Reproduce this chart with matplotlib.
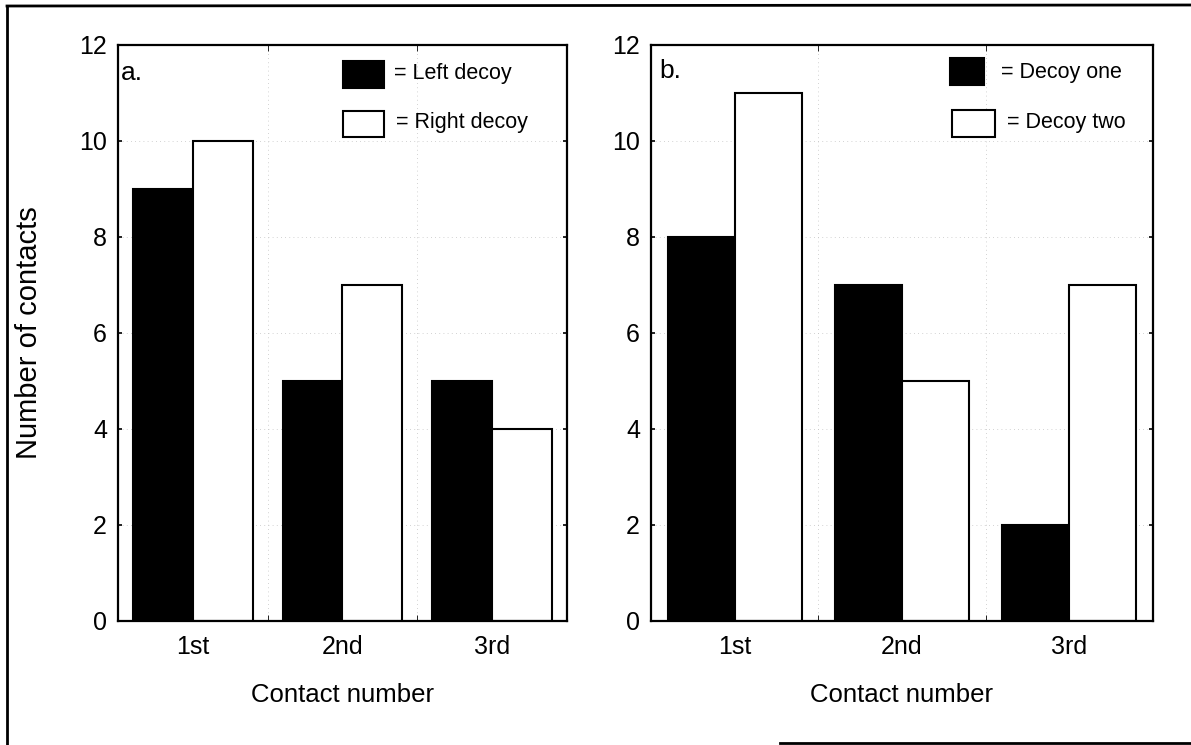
import matplotlib
matplotlib.use("Agg")
import matplotlib.pyplot as plt
from matplotlib.lines import Line2D
import numpy as np

plt.rcParams['font.family'] = ['Liberation Sans', 'DejaVu Sans']

contacts = ["1st", "2nd", "3rd"]
left_decoy = [9, 5, 5]
right_decoy = [10, 7, 4]
decoy_one = [8, 7, 2]
decoy_two = [11, 5, 7]
y_ticks = [0, 2, 4, 6, 8, 10, 12]

W, H = 1191, 745
fig = plt.figure(figsize=(W / 100, H / 100), dpi=100)


def px_axes(x0, y0, x1, y1):
    return fig.add_axes([x0 / W, 1 - y1 / H, (x1 - x0) / W, (y1 - y0) / H])


def panel(ax, s1, s2, tag, tag_pos, names, boxes, texts):
    x = np.arange(len(contacts))
    w = 0.4
    ax.bar(x - w / 2, s1, w, color="black", edgecolor="black", linewidth=1.5)
    ax.bar(x + w / 2, s2, w, color="white", edgecolor="black", linewidth=1.5)
    ax.set_xlim(-0.5, len(contacts) - 0.5)
    ax.set_ylim(0, 12)
    ax.set_yticks(y_ticks)
    ax.set_xticks(x)
    ax.set_xticklabels(contacts)
    ax.set_xticks(np.arange(0.5, len(contacts) - 0.5), minor=True)
    ax.tick_params(axis="both", which="major", labelsize=18, direction="in",
                   length=3, width=1.2, right=True, top=False)
    ax.tick_params(axis="x", which="major", length=0, pad=10)
    ax.tick_params(axis="x", which="minor", direction="in", length=4,
                   top=True, bottom=True)
    ax.tick_params(axis="y", pad=8)
    for sp in ax.spines.values():
        sp.set_linewidth(1.6)
    # faint dotted grid
    for yv in y_ticks[1:-1]:
        ax.axhline(yv, color="#c4c4c4", lw=0.6, ls=(0, (1, 4)), zorder=0)
    for xv in np.arange(0.5, len(contacts) - 0.5):
        ax.axvline(xv, color="#c4c4c4", lw=0.6, ls=(0, (1, 4)), zorder=0)
    ax.set_xlabel("Contact number", fontsize=18.5, labelpad=17)
    ax.text(tag_pos[0], tag_pos[1], tag, transform=ax.transAxes,
            fontsize=19, ha="left", va="baseline")
    # legend boxes and labels (axes-fraction placement)
    for (bx, by, bw, bh, fc), (tx, ty), name in zip(boxes, texts, names):
        ax.add_patch(plt.Rectangle((bx, by), bw, bh, transform=ax.transAxes,
                                   facecolor=fc, edgecolor="black", lw=1.5,
                                   clip_on=False, zorder=5))
        ax.text(tx, ty, name, transform=ax.transAxes, fontsize=15.5,
                ha="left", va="center")


ax1 = px_axes(118, 45, 567, 621)
ax2 = px_axes(651, 45, 1153, 621)

panel(ax1, left_decoy, right_decoy, "a.", (0.006, 0.939),
      ["= Left decoy", "= Right decoy"],
      [(0.50, 0.925, 0.093, 0.047, "black"), (0.50, 0.84, 0.093, 0.045, "white")],
      [(0.615, 0.95), (0.62, 0.865)])
panel(ax2, decoy_one, decoy_two, "b.", (0.016, 0.943),
      ["= Decoy one", "= Decoy two"],
      [(0.595, 0.93, 0.068, 0.048, "black"), (0.600, 0.84, 0.085, 0.047, "white")],
      [(0.697, 0.953), (0.71, 0.865)])

ax1.set_ylabel("Number of contacts", fontsize=21)
ax1.yaxis.set_label_coords(-0.167, 0.5)

# outer frame
fig.add_artist(Line2D([7 / W, 7 / W], [1 - 6 / H, 0], color="black", lw=2))
fig.add_artist(Line2D([7 / W, 1], [1 - 6 / H, 1 - 5 / H], color="black", lw=2))
fig.add_artist(Line2D([780 / W, 1], [1 - 743 / H, 1 - 743 / H], color="black", lw=2))

fig.savefig("out.png", dpi=100)
